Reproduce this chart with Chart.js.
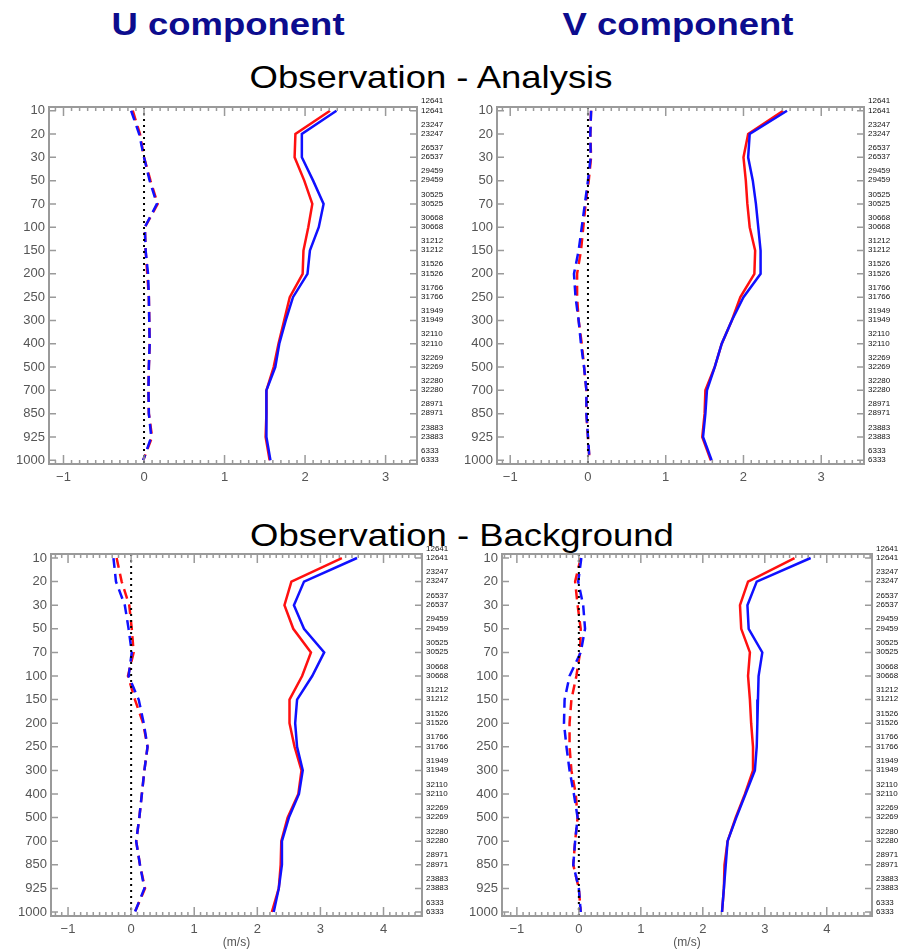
<!DOCTYPE html>
<html>
<head>
<meta charset="utf-8">
<script src="https://cdn.jsdelivr.net/npm/chart.js@4.4.0/dist/chart.umd.min.js"></script>
<style>
  html, body { margin: 0; padding: 0; background: #fff; overflow: hidden; }
  body { width: 912px; height: 949px; position: relative; font-family: "Liberation Sans", Arial, sans-serif; }
  canvas { position: absolute; }
  .title { position: absolute; white-space: nowrap; line-height: 32px; font-size: 32px; transform: translateX(-50%) scaleX(1.14); }
  .comp { font-weight: bold; color: #0c0c8e; }
</style>
</head>
<body>
<div class="title comp" style="left:228px; top:8px;">U component</div>
<div class="title comp" style="left:678px; top:8px;">V component</div>
<div class="title" style="left:431px; top:61px;">Observation - Analysis</div>
<div class="title" style="left:462px; top:519px;">Observation - Background</div>

<canvas id="tl" width="456" height="399" style="left:1px; top:91px;"></canvas>
<canvas id="tr" width="455" height="399" style="left:449px; top:91px;"></canvas>
<canvas id="bl" width="459" height="412" style="left:3px; top:538px;"></canvas>
<canvas id="br" width="458" height="412" style="left:454px; top:538px;"></canvas>

<script>
// pressure levels (hPa), top to bottom
const levels = [10, 20, 30, 50, 70, 100, 150, 200, 250, 300, 400, 500, 700, 850, 925, 1000];
// observation counts shown on the right of each panel
const countsUpper = [12641, 23247, 26537, 29459, 30525, 30668, 31212, 31526, 31766, 31949, 32110, 32269, 32280, 28971, 23883, 6333];
const countsLower = [12641, 23247, 26537, 29459, 30525, 30668, 31212, 31526, 31766, 31949, 32110, 32269, 32280, 28971, 23883, 6333];

// U component, observation - analysis
const uOA_blueSolid = [2.39, 1.96, 1.96, 2.10, 2.23, 2.17, 2.06, 2.03, 1.85, 1.76, 1.68, 1.63, 1.52, 1.52, 1.52, 1.57];
const uOA_redSolid  = [2.31, 1.88, 1.87, 1.99, 2.09, 2.04, 1.98, 1.97, 1.81, 1.74, 1.67, 1.61, 1.52, 1.52, 1.51, 1.56];
const uOA_blueDash  = [-0.16, -0.06, 0.00, 0.07, 0.16, 0.01, 0.02, 0.05, 0.06, 0.065, 0.07, 0.06, 0.055, 0.06, 0.09, -0.01];
const uOA_redDash   = [-0.14, -0.05, 0.00, 0.08, 0.17, 0.01, 0.02, 0.04, 0.06, 0.065, 0.07, 0.06, 0.055, 0.06, 0.10, -0.01];

// V component, observation - analysis
const vOA_blueSolid = [2.56, 2.08, 2.06, 2.12, 2.16, 2.19, 2.22, 2.22, 2.00, 1.85, 1.72, 1.63, 1.53, 1.51, 1.48, 1.59];
const vOA_redSolid  = [2.51, 2.06, 2.00, 2.03, 2.05, 2.08, 2.15, 2.14, 1.96, 1.85, 1.72, 1.63, 1.51, 1.50, 1.47, 1.58];
const vOA_blueDash  = [0.04, 0.03, 0.035, 0.00, -0.04, -0.08, -0.12, -0.18, -0.16, -0.12, -0.09, -0.05, -0.02, -0.02, 0.00, 0.02];
const vOA_redDash   = [0.04, 0.03, 0.04, 0.01, -0.03, -0.06, -0.09, -0.14, -0.14, -0.12, -0.08, -0.05, -0.02, -0.02, 0.00, 0.02];

// U component, observation - background
const uOB_blueSolid = [3.58, 2.74, 2.58, 2.74, 3.06, 2.87, 2.63, 2.60, 2.63, 2.72, 2.66, 2.50, 2.39, 2.39, 2.34, 2.26];
const uOB_redSolid  = [3.34, 2.54, 2.43, 2.57, 2.85, 2.71, 2.51, 2.51, 2.59, 2.70, 2.65, 2.48, 2.38, 2.37, 2.34, 2.23];
const uOB_blueDash  = [-0.28, -0.24, -0.10, -0.04, 0.01, -0.04, 0.12, 0.20, 0.26, 0.21, 0.17, 0.13, 0.08, 0.14, 0.21, 0.06];
const uOB_redDash   = [-0.23, -0.15, -0.03, 0.01, 0.04, -0.05, 0.06, 0.19, 0.26, 0.21, 0.17, 0.13, 0.08, 0.14, 0.22, 0.06];

// V component, observation - background
const vOB_blueSolid = [3.74, 2.87, 2.72, 2.74, 2.96, 2.90, 2.89, 2.88, 2.87, 2.84, 2.69, 2.54, 2.40, 2.37, 2.34, 2.31];
const vOB_redSolid  = [3.48, 2.73, 2.60, 2.62, 2.76, 2.73, 2.76, 2.78, 2.81, 2.81, 2.68, 2.53, 2.40, 2.35, 2.34, 2.31];
const vOB_blueDash  = [0.04, -0.01, 0.07, 0.10, 0.03, -0.15, -0.23, -0.24, -0.20, -0.15, -0.08, -0.02, -0.06, -0.09, 0.00, 0.03];
const vOB_redDash   = [0.03, -0.06, -0.02, 0.03, 0.02, -0.04, -0.12, -0.15, -0.15, -0.12, -0.05, -0.02, -0.06, -0.09, 0.00, 0.03];

const BLUE = '#1010ff';
const RED = '#ff1010';
const FRAME = '#9a9a9a';
const FONT = '"Liberation Sans", Arial, sans-serif';

// frame with inward tick marks, like the original plotting package
const frameTicks = {
  id: 'frameTicks',
  afterDatasetsDraw(chart) {
    const { ctx, chartArea: a, scales } = chart;
    const x = scales.x, y = scales.y;
    ctx.save();
    ctx.strokeStyle = FRAME;
    ctx.lineWidth = 1.5;
    ctx.beginPath();
    levels.forEach((_, i) => {
      const py = y.getPixelForValue(i);
      ctx.moveTo(a.left, py); ctx.lineTo(a.left + 7, py);
      ctx.moveTo(a.right, py); ctx.lineTo(a.right - 7, py);
    });
    for (let k = Math.ceil(x.min * 10); k <= Math.floor(x.max * 10); k++) {
      const px = x.getPixelForValue(k / 10);
      const len = k % 10 === 0 ? 9 : 4;
      ctx.moveTo(px, a.top); ctx.lineTo(px, a.top + len);
      ctx.moveTo(px, a.bottom); ctx.lineTo(px, a.bottom - len);
    }
    ctx.stroke();
    ctx.lineWidth = 2;
    ctx.strokeRect(a.left, a.top, a.right - a.left, a.bottom - a.top);
    ctx.restore();
  }
};

function profile(values) {
  return values.map((v, i) => ({ x: v, y: i }));
}

function makePanel(id, xMin, xMax, yPad, bottomRow, series) {
  const yMin = -yPad, yMax = levels.length - 1 + yPad;
  new Chart(document.getElementById(id), {
    type: 'line',
    data: {
      datasets: [
        { data: [{ x: 0, y: yMin }, { x: 0, y: yMax }], borderColor: '#000', borderWidth: 2, borderDash: [2, 4] },
        { data: profile(series[2]), borderColor: BLUE, borderWidth: 2.5, borderDash: [10, 6] },
        { data: profile(series[3]), borderColor: RED, borderWidth: 2.5, borderDash: [10, 6] },
        { data: profile(series[0]), borderColor: BLUE, borderWidth: 2.5 },
        { data: profile(series[1]), borderColor: RED, borderWidth: 2.5 }
      ]
    },
    options: {
      responsive: false,
      animation: false,
      layout: { padding: { top: 16, left: 0, right: 0, bottom: 0 } },
      elements: { point: { radius: 0 }, line: { tension: 0 } },
      plugins: { legend: { display: false }, tooltip: { enabled: false } },
      scales: {
        x: {
          type: 'linear', min: xMin, max: xMax,
          grid: { display: false, drawTicks: false }, border: { display: false },
          ticks: {
            stepSize: 1, includeBounds: false, padding: 6, color: '#555',
            font: { family: FONT, size: 13 },
            callback: v => (v < 0 ? '\u2212' + Math.abs(v) : String(v))
          },
          title: { display: bottomRow, text: '(m/s)', color: '#555', padding: 0, font: { family: FONT, size: 12 } },
          afterFit: s => { s.height = bottomRow ? 34 : 26; }
        },
        y: {
          type: 'linear', reverse: true, min: yMin, max: yMax,
          grid: { display: false, drawTicks: false }, border: { display: false },
          ticks: {
            stepSize: 1, includeBounds: false, padding: 4, color: '#555',
            font: { family: FONT, size: 13 },
            callback: v => levels[v]
          },
          afterFit: s => { s.width = 48; }
        },
        y2: {
          type: 'linear', position: 'right', reverse: true, min: yMin, max: yMax,
          grid: { display: false, drawTicks: false }, border: { display: false },
          ticks: {
            stepSize: 1, includeBounds: false, padding: 4, color: '#111', labelOffset: -5,
            font: { family: FONT, size: 8, lineHeight: 1.15 },
            callback: v => [String(countsUpper[v]), String(countsLower[v])]
          },
          afterFit: s => { s.width = 40; }
        }
      }
    },
    plugins: [frameTicks]
  });
}

makePanel('tl', -1.18, 3.39, 0.16, false, [uOA_blueSolid, uOA_redSolid, uOA_blueDash, uOA_redDash]);
makePanel('tr', -1.17, 3.55, 0.16, false, [vOA_blueSolid, vOA_redSolid, vOA_blueDash, vOA_redDash]);
makePanel('bl', -1.27, 4.61, 0.17, true, [uOB_blueSolid, uOB_redSolid, uOB_blueDash, uOB_redDash]);
makePanel('br', -1.24, 4.73, 0.17, true, [vOB_blueSolid, vOB_redSolid, vOB_blueDash, vOB_redDash]);
</script>
</body>
</html>
